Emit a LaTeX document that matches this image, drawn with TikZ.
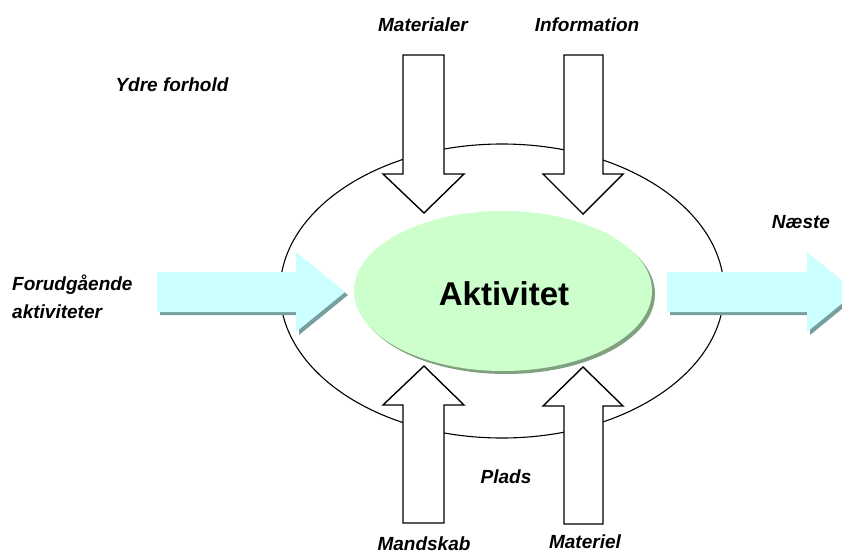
\documentclass[tikz,border=0pt]{standalone}
\usepackage{fontspec}
\setmainfont{Liberation Sans}
\usetikzlibrary{shapes.geometric}
\definecolor{cyanfill}{RGB}{204,255,255}
\definecolor{cyanshadow}{RGB}{120,158,158}
\definecolor{greenfill}{RGB}{204,255,204}
\definecolor{greenshadow}{RGB}{128,160,128}
\tikzset{
  lbl/.style={inner sep=0pt, anchor=base, font=\fontsize{19}{27}\selectfont\bfseries\itshape},
  whitearrow/.style={draw=black, line width=1.4pt, fill=white, line join=miter},
  cyanarrow/.style={fill=cyanfill},
  cyanshade/.style={fill=cyanshadow},
}
\begin{document}
\begin{tikzpicture}[x=1pt,y=-1pt]
\useasboundingbox (0,0) rectangle (842,554);
\clip (0,0) rectangle (842,554);
% outer ellipse
\node[draw=black, line width=1.1pt, ellipse, minimum width=444pt, minimum height=294pt, inner sep=0pt] (outer) at (502,291) {};
% inner ellipse with shadow
\fill[greenshadow] (506,294) ellipse [x radius=149pt, y radius=80pt];
\node[fill=greenfill, ellipse, minimum width=298pt, minimum height=160pt, inner sep=0pt] (act) at (503,291) {};
\node[inner sep=0pt, anchor=base, font=\fontsize{33}{40}\selectfont\bfseries] (acttxt) at (504,305) {Aktivitet};
% left cyan arrow
\fill[cyanshade] (160,275) -- (299,275) -- (299,256) -- (348,295) -- (299,335) -- (299,315) -- (160,315) -- cycle;
\fill[cyanarrow] (157,272) -- (296,272) -- (296,252) -- (345,292) -- (296,332) -- (296,312) -- (157,312) -- cycle;
% right cyan arrow
\fill[cyanshade] (670,275) -- (810,275) -- (810,255) -- (859,295) -- (810,335) -- (810,315) -- (670,315) -- cycle;
\fill[cyanarrow] (667,272) -- (807,272) -- (807,252) -- (856,292) -- (807,332) -- (807,312) -- (667,312) -- cycle;
% down arrows
\draw[whitearrow] (403,55) -- (444,55) -- (444,174) -- (464,174) -- (424,213) -- (383,174) -- (403,174) -- cycle;
\draw[whitearrow] (564,55) -- (603,55) -- (603,174) -- (623,174) -- (583,214) -- (543,174) -- (564,174) -- cycle;
% up arrows
\draw[whitearrow] (403,523) -- (444,523) -- (444,405) -- (464,405) -- (424,366) -- (383,405) -- (403,405) -- cycle;
\draw[whitearrow] (564,524) -- (603,524) -- (603,406) -- (623,406) -- (583,367) -- (543,406) -- (564,406) -- cycle;
% labels
\node[lbl] (materialer) at (423,31) {Materialer};
\node[lbl] (information) at (587,31) {Information};
\node[lbl] (ydre) at (172,91) {Ydre forhold};
\node[lbl, anchor=base west] (forud) at (12,290) {Forudgående};
\node[lbl, anchor=base west] (aktiv) at (12,318) {aktiviteter};
\node[lbl] (naeste) at (801,228) {Næste};
\node[lbl] (plads) at (506,483) {Plads};
\node[lbl] (mandskab) at (424,550) {Mandskab};
\node[lbl] (materiel) at (585,548) {Materiel};
\end{tikzpicture}
\end{document}
